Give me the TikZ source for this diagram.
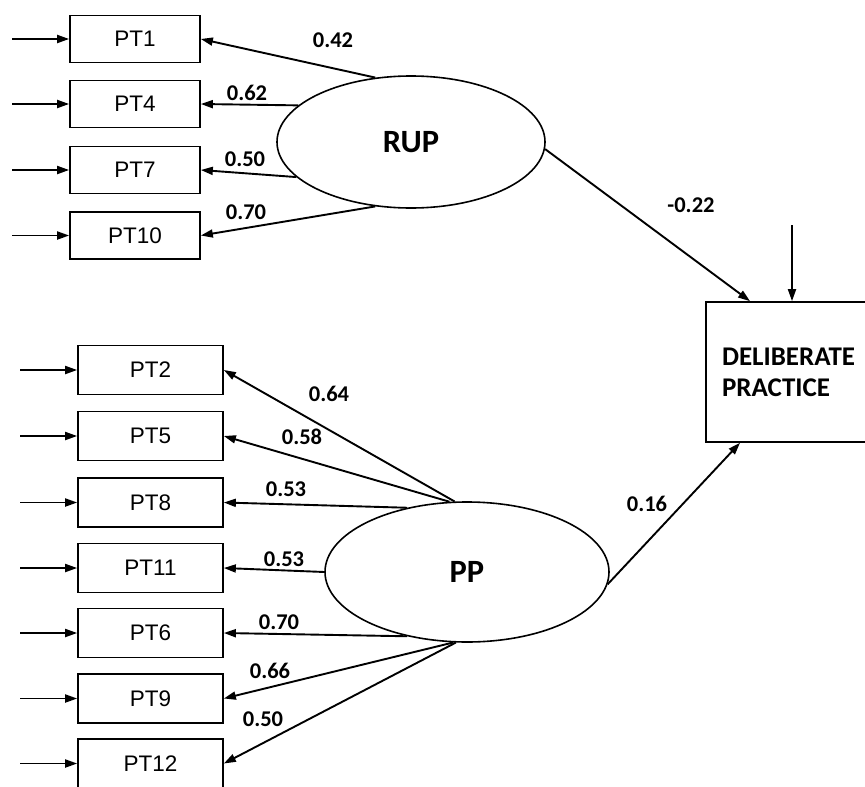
\documentclass[tikz,border=0pt]{standalone}
\usepackage{fontspec}
\setmainfont{Liberation Sans}
\newfontfamily\calfont{Carlito}
\usetikzlibrary{arrows.meta,shapes.geometric}
\begin{document}
\begin{tikzpicture}[x=1pt,y=-1pt,
  box/.style={draw, line width=1.7pt, rectangle, inner sep=0pt, font=\fontsize{22.5}{24}\selectfont},
  topbox/.style={box, minimum width=130pt, minimum height=47pt},
  botbox/.style={box, minimum width=145pt, minimum height=49pt},
  latent/.style={draw, ellipse, line width=1.6pt, inner sep=0pt, font=\calfont\bfseries\fontsize{32.5}{34}\selectfont},
  arr/.style={line width=1.9pt, -{Triangle[length=12pt,width=8pt]}},
  coef/.style={font=\calfont\bfseries\fontsize{22.5}{24}\selectfont, inner sep=0pt}
]
\useasboundingbox (0,0) rectangle (865,787);

% top indicators
\node[topbox] (pt1)  at (135,39)    {PT1};
\node[topbox] (pt4)  at (135,104)   {PT4};
\node[topbox] (pt7)  at (135,170)   {PT7};
\node[topbox] (pt10) at (135,235.5) {PT10};

% bottom indicators
\node[botbox] (pt2)  at (150.5,370)   {PT2};
\node[botbox] (pt5)  at (150.5,436)   {PT5};
\node[botbox] (pt8)  at (150.5,502.5) {PT8};
\node[botbox] (pt11) at (150.5,568)   {PT11};
\node[botbox] (pt6)  at (150.5,633)   {PT6};
\node[botbox] (pt9)  at (150.5,698.5) {PT9};
\node[botbox] (pt12) at (150.5,763.5) {PT12};

% latent variables
\node[latent, minimum width=268pt, minimum height=132pt] (rup) at (411,142) {RUP};
\node[latent, minimum width=284pt, minimum height=140pt] (pp)  at (467,572) {PP};

% outcome
\node[draw, line width=1.7pt, rectangle, inner sep=0pt, minimum width=179pt, minimum height=140pt,
      text width=147pt, align=left, font=\calfont\bfseries\fontsize{27}{31}\selectfont]
      (dp) at (795.5,372) {DELIBERATE\\PRACTICE};

% error input coordinates
\coordinate (e1)  at (12,39);
\coordinate (e4)  at (12,104);
\coordinate (e7)  at (12,170);
\coordinate (e10) at (12,235.5);
\coordinate (e2)  at (20,370);
\coordinate (e5)  at (20,436);
\coordinate (e8)  at (20,502.5);
\coordinate (e11) at (20,568);
\coordinate (e6)  at (20,633);
\coordinate (e9)  at (20,698.5);
\coordinate (e12) at (20,763.5);
\coordinate (edp) at (792,225);

\foreach \n in {1,4,7,10,2,5,8,11,6,9,12}{
  \draw[arr] (e\n) -- (pt\n.west);
}
\draw[arr] (edp) -- ([xshift=-3.5pt]dp.north);

% loadings RUP
\draw[arr] (rup.119) -- (pt1.east);
\draw[arr] (rup.162.5) -- (pt4.east);
\draw[arr] (rup.197.5) -- (pt7.east);
\draw[arr] (rup.241) -- (pt10.east);

% loadings PP
\draw[arr] (pp.100) -- (pt2.east);
\draw[arr] (pp.104) -- (pt5.east);
\draw[arr] (pp.133) -- (pt8.east);
\draw[arr] (pp.west) -- (pt11.east);
\draw[arr] (pp.227) -- (pt6.east);
\draw[arr] (pp.259) -- (pt9.east);
\draw[arr] (pp.261) -- (pt12.east);

% structural paths
\draw[arr] (rup.-3) -- ([xshift=-45.5pt]dp.north);
\draw[arr] (pp.-5) -- ([xshift=-55.5pt]dp.south);

% coefficients
\node[coef] (c1)  at (333,40)  {0.42};
\node[coef] (c4)  at (247,93)  {0.62};
\node[coef] (c7)  at (245,159) {0.50};
\node[coef] (c10) at (246,212) {0.70};
\node[coef] (cr)  at (691,205) {-0.22};
\node[coef] (cp)  at (647,504) {0.16};
\node[coef] (c2)  at (329,394) {0.64};
\node[coef] (c5)  at (302,437) {0.58};
\node[coef] (c8)  at (286,489) {0.53};
\node[coef] (c11) at (284,559) {0.53};
\node[coef] (c6)  at (279,622) {0.70};
\node[coef] (c9)  at (270,671) {0.66};
\node[coef] (c12) at (263,719) {0.50};
\end{tikzpicture}
\end{document}
